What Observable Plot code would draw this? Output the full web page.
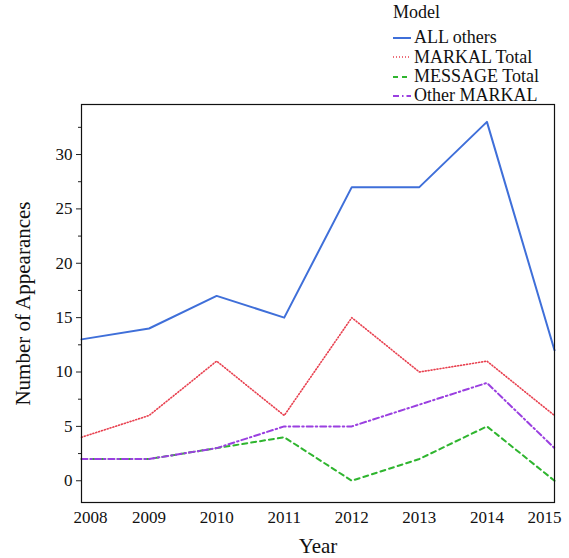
<!DOCTYPE html>
<html>
<head>
<meta charset="utf-8">
<script src="https://cdn.jsdelivr.net/npm/d3@7"></script>
<script src="https://cdn.jsdelivr.net/npm/@observablehq/plot@0.6"></script>
<style>
  body { margin: 0; background: #fff; }
  #wrap { position: relative; width: 569px; height: 558px; font-family: "Liberation Serif", "Times New Roman", serif; }
  #legend { position: absolute; left: 393px; top: 3px; font-size: 18px; color: #111; line-height: 19.3px; }
  #legend .title { margin-bottom: 6px; }
  #legend .item { display: flex; align-items: center; white-space: nowrap; }
  #legend svg { margin-right: 3px; }
</style>
</head>
<body>
<div id="wrap">
  <div id="chart"></div>
  <div id="legend"></div>
</div>
<script>
const years = [2008, 2009, 2010, 2011, 2012, 2013, 2014, 2015];
const seriesNames = ["ALL others", "MARKAL Total", "MESSAGE Total", "Other MARKAL"];
const allOthers   = [13, 14, 17, 15, 27, 27, 33, 12];
const markalTotal = [4, 6, 11, 6, 15, 10, 11, 6];
const messageTotal = [2, 2, 3, 4, 0, 2, 5, 0];
const otherMarkal = [2, 2, 3, 5, 5, 7, 9, 3];
const yTicks = [0, 5, 10, 15, 20, 25, 30];
const yMinorTicks = [2.5, 7.5, 12.5, 17.5, 22.5, 27.5, 32.5];

const colors = ["#3f6fd9", "#e8404f", "#2fb52f", "#9a3fe0"];
const dashes = [null, "1,2", "5,4", "6,3,1.5,3"];
const widths = [2, 1.6, 2, 2];
const valuesBySeries = [allOthers, markalTotal, messageTotal, otherMarkal];

const data = [];
seriesNames.forEach((name, i) => {
  years.forEach((y, j) => data.push({series: name, year: y, value: valuesBySeries[i][j]}));
});

const lineMarks = seriesNames.map((name, i) =>
  Plot.line(data.filter(d => d.series === name), {
    x: "year", y: "value",
    stroke: colors[i], strokeWidth: widths[i],
    strokeDasharray: dashes[i] || undefined
  })
);

const firstYear = years[0];
const lastYear = years[years.length - 1];
const midYears = years.slice(1, -1);

const chart = Plot.plot({
  width: 569,
  height: 558,
  marginTop: 104,
  marginBottom: 56,
  marginLeft: 81,
  marginRight: 15,
  style: { fontFamily: "Liberation Serif, Times New Roman, serif", fontSize: "17px", color: "#111", background: "#fff" },
  x: { domain: [firstYear, lastYear] },
  y: { domain: [-2, 34.6] },
  marks: [
    Plot.axisY(yMinorTicks, { tickSize: 3, text: null, label: null, stroke: "#222" }),
    Plot.axisY(yTicks, {
      tickSize: 5, tickPadding: 4, fontSize: 17, stroke: "#222",
      label: "Number of Appearances", labelAnchor: "center", labelArrow: "none",
      labelOffset: 66
    }),
    Plot.axisX(midYears, {
      tickSize: 0, tickPadding: 8, tickFormat: "d", fontSize: 17,
      label: "Year", labelAnchor: "center", labelArrow: "none", labelOffset: 50
    }),
    Plot.axisX([firstYear], { tickSize: 0, tickPadding: 8, tickFormat: "d", fontSize: 17, dx: 9, label: null }),
    Plot.axisX([lastYear], { tickSize: 0, tickPadding: 8, tickFormat: "d", fontSize: 17, dx: -10, label: null }),
    ...lineMarks,
    Plot.frame({ stroke: "#111", strokeWidth: 1.2 })
  ]
});
document.getElementById("chart").appendChild(chart);

d3.select(chart).selectAll("g[aria-label='y-axis label'] text, g[aria-label='x-axis label'] text")
  .style("font-size", "21px");

// legend
const legend = document.getElementById("legend");
const t = document.createElement("div");
t.className = "title";
t.textContent = "Model";
legend.appendChild(t);
seriesNames.forEach((name, i) => {
  const row = document.createElement("div");
  row.className = "item";
  const ns = "http://www.w3.org/2000/svg";
  const sw = document.createElementNS(ns, "svg");
  sw.setAttribute("width", 18);
  sw.setAttribute("height", 10);
  const ln = document.createElementNS(ns, "line");
  ln.setAttribute("x1", 0); ln.setAttribute("x2", 18);
  ln.setAttribute("y1", 5); ln.setAttribute("y2", 5);
  ln.setAttribute("stroke", colors[i]);
  ln.setAttribute("stroke-width", widths[i]);
  if (dashes[i]) ln.setAttribute("stroke-dasharray", dashes[i]);
  sw.appendChild(ln);
  row.appendChild(sw);
  const s = document.createElement("span");
  s.textContent = name;
  row.appendChild(s);
  legend.appendChild(row);
});
</script>
</body>
</html>
